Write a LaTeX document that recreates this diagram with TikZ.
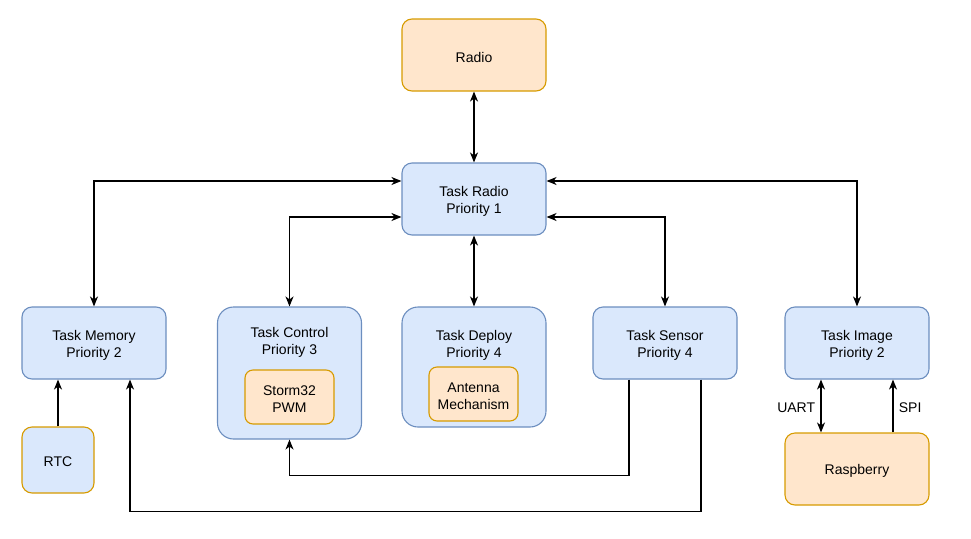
\documentclass[tikz,border=0pt]{standalone}
\usepackage{fontspec}
\setmainfont{Liberation Sans}
\usetikzlibrary{positioning,calc,arrows.meta}
\definecolor{taskfill}{HTML}{DAE8FC}
\definecolor{taskline}{HTML}{6C8EBF}
\definecolor{hwfill}{HTML}{FFE6CC}
\definecolor{hwline}{HTML}{D79B00}
\tikzset{%
  every task/.style={
    rectangle,
    rounded corners=10pt,
    draw=taskline,
    fill=taskfill,
    line width=1.1pt,
    minimum width=144pt,
    minimum height=72pt
  },
  every hardware/.style={
    every task,
    draw=hwline,
    fill=hwfill
  },
  every label/.style={
    align=center,
    yshift=-2pt,
    font=\fontsize{14}{17}\selectfont
  },
  link/.style={
    line width=1.1pt
  },
}

\begin{document}
\begin{tikzpicture}[x=1pt, y=-1pt, >={Stealth[length=10pt,width=8pt,inset=3pt]}]
        \useasboundingbox (0,0) rectangle (971,538);
        % radio and its task
        \node [every hardware] (radio) at (474,55) {};
        \node [every task] (task-radio) at (474,199) {};
        % tasks of one row
        \foreach \m/\l/\x/\p in {memory/Memory/94/2,sensor/Sensor/665/4,image/Image/857/2}
          \node [every task] (task-\m) at (\x,343) {};
        \node [every task, minimum height=132pt, rounded corners=16pt] (task-control) at (289.5,373) {};
        \node [every task, minimum height=120pt, rounded corners=16pt] (task-deploy) at (474,367) {};
        % hardware inside and below
        \node [every hardware, minimum width=89pt, minimum height=54pt, rounded corners=8pt] (storm) at (289.5,397) {};
        \node [every hardware, minimum width=89pt, minimum height=54pt, rounded corners=8pt] (antenna) at (473.5,394) {};
        \node [every hardware, fill=taskfill, minimum width=72pt, minimum height=66pt] (rtc) at (58,460) {};
        \node [every hardware] (raspberry) at (857,469) {};

        \node [every label] at (radio) {Radio};
        \node [every label] at (task-radio) {Task Radio\\Priority 1};
        \foreach \m/\l/\p in {memory/Memory/2,sensor/Sensor/4,image/Image/2}
          \node [every label] at (task-\m) {Task \l\\Priority \p};
        \node [every label] at (289.5,340) {Task Control\\Priority 3};
        \node [every label] at (474,343) {Task Deploy\\Priority 4};
        \node [every label] at (storm) {Storm32\\PWM};
        \node [every label] at (antenna) {Antenna\\Mechanism};
        \node [every label] at (rtc) {RTC};
        \node [every label] at (raspberry) {Raspberry};

        \draw [link, <->] (radio) -- (task-radio);
        \draw [link, <->] (task-memory) |- ([yshift=18pt]task-radio.west);
        \draw [link, <->] (task-control) |- ([yshift=-18pt]task-radio.west);
        \draw [link, <->] (task-deploy) -- (task-radio);
        \draw [link, <->] (task-sensor) |- ([yshift=-18pt]task-radio.east);
        \draw [link, <->] (task-image) |- ([yshift=18pt]task-radio.east);
        \draw [link, ->] (rtc) -- (rtc.north |- task-memory.south);
        \draw [link, ->] ([xshift=-36pt]task-sensor.south) -- ++(0,96) -| (task-control);
        \draw [link, ->] ([xshift=36pt]task-sensor.south) -- ++(0,132) -| ([xshift=36pt]task-memory.south);
        \draw [link, <->] ([xshift=-36pt]task-image.south) -- ([xshift=-36pt]raspberry.north)
          node [every label, midway, left=2pt] {UART};
        \draw [link, ->] ([xshift=36pt]raspberry.north) -- ([xshift=36pt]task-image.south)
          node [every label, midway, right=2pt] {SPI};
\end{tikzpicture}
\end{document}
